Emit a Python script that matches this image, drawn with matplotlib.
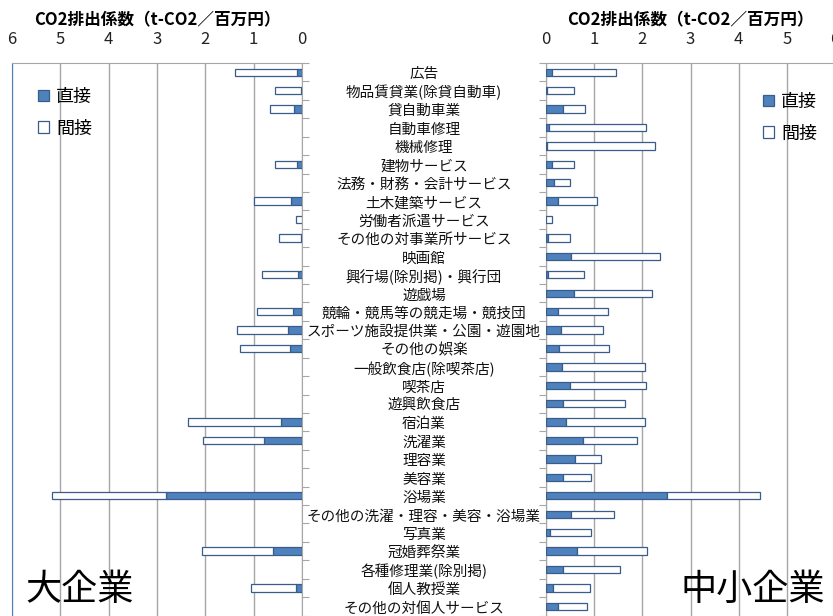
import numpy as np
import matplotlib
matplotlib.use("Agg")
import matplotlib.pyplot as plt
from matplotlib.transforms import blended_transform_factory
from matplotlib.patches import Patch

plt.rcParams['font.family'] = ['Noto Sans CJK JP', 'DejaVu Sans']

categories = [
    "広告", "物品賃貸業(除貸自動車)", "貸自動車業", "自動車修理", "機械修理",
    "建物サービス", "法務・財務・会計サービス", "土木建築サービス", "労働者派遣サービス",
    "その他の対事業所サービス", "映画館", "興行場(除別掲)・興行団", "遊戯場",
    "競輪・競馬等の競走場・競技団", "スポーツ施設提供業・公園・遊園地", "その他の娯楽",
    "一般飲食店(除喫茶店)", "喫茶店", "遊興飲食店", "宿泊業", "洗濯業", "理容業", "美容業",
    "浴場業", "その他の洗濯・理容・美容・浴場業", "写真業", "冠婚葬祭業", "各種修理業(除別掲)",
    "個人教授業", "その他の対個人サービス",
]

large_direct = [0.10, 0.02, 0.17, 0, 0, 0.10, 0, 0.23, 0.01, 0.02, 0, 0.08, 0, 0.18, 0.30,
                0.25, 0, 0, 0, 0.43, 0.79, 0, 0, 2.82, 0, 0, 0.61, 0, 0.12, 0]
large_indirect = [1.29, 0.54, 0.49, 0, 0, 0.46, 0, 0.76, 0.11, 0.45, 0, 0.75, 0, 0.76, 1.05,
                  1.03, 0, 0, 0, 1.92, 1.25, 0, 0, 2.36, 0, 0, 1.45, 0, 0.94, 0]

small_direct = [0.12, 0.03, 0.35, 0.06, 0.03, 0.12, 0.16, 0.24, 0.01, 0.04, 0.51, 0.05, 0.58,
                0.24, 0.31, 0.26, 0.33, 0.49, 0.35, 0.41, 0.76, 0.60, 0.35, 2.52, 0.51, 0.09,
                0.64, 0.35, 0.14, 0.24]
small_indirect = [1.33, 0.56, 0.47, 2.01, 2.23, 0.47, 0.33, 0.81, 0.12, 0.45, 1.86, 0.73, 1.63,
                  1.04, 0.88, 1.04, 1.73, 1.59, 1.28, 1.65, 1.12, 0.54, 0.59, 1.92, 0.91, 0.85,
                  1.46, 1.19, 0.77, 0.62]

xticks = [0, 1, 2, 3, 4, 5, 6]
title = "CO2排出係数（t-CO2／百万円）"
legend_labels = ["直接", "間接"]

W, H = 833, 616
fig = plt.figure(figsize=(W / 100, H / 100), dpi=100)

def fx(px):
    return px / W

def fy(py):
    return 1 - py / H

top_px, bot_px = 63, 615.5
axL = fig.add_axes([fx(12), fy(bot_px), fx(302 - 12), (bot_px - top_px) / H])
axR = fig.add_axes([fx(546), fy(bot_px), fx(835 - 546), (bot_px - top_px) / H])

blue = "#4F81BD"
dark = "#385D8A"
grid = "#A6A6A6"
n = len(categories)
y = np.arange(n)
bh = 0.40

def draw(ax, direct, indirect):
    d = np.array(direct, dtype=float)
    ind = np.array(indirect, dtype=float)
    m1 = d > 0
    ax.barh(y[m1], d[m1], height=bh, color=blue, edgecolor=dark, linewidth=0.9, zorder=3)
    m2 = ind > 0
    ax.barh(y[m2], ind[m2], left=d[m2], height=bh, color="white", edgecolor=dark,
            linewidth=0.9, zorder=3)
    ax.set_ylim(n - 0.5, -0.5)
    ax.set_xticks(xticks)
    ax.xaxis.tick_top()
    ax.tick_params(axis='x', length=0, pad=11, labelsize=12, colors="#222222")
    ax.grid(axis='x', color=grid, linewidth=1.0, zorder=0)
    ax.set_yticks(np.arange(n + 1) - 0.5)
    ax.set_yticklabels([])
    for s in ax.spines.values():
        s.set_color(grid)
    ax.spines['bottom'].set_visible(False)

draw(axL, large_direct, large_indirect)
axL.set_xlim(6, 0)
axL.spines['left'].set_color(blue)
axL.yaxis.tick_right()
axL.tick_params(axis='y', length=5, color=grid, direction='out')

draw(axR, small_direct, small_indirect)
axR.set_xlim(0, 6)
axR.spines['right'].set_visible(False)
axR.yaxis.tick_left()
axR.tick_params(axis='y', length=5, color=grid, direction='out')

# category labels in the middle
tr = blended_transform_factory(fig.transFigure, axL.transData)
for i, c in enumerate(categories):
    axL.text(fx(424), i + 0.12, c, transform=tr, ha='center', va='center', fontsize=10.5,
             color="#111111", clip_on=False)

fig.text(fx(157), fy(20), title, ha='center', va='center', fontsize=12, fontweight='bold')
fig.text(fx(690), fy(20), title, ha='center', va='center', fontsize=12, fontweight='bold')

handles = [Patch(facecolor=blue, edgecolor=dark, linewidth=0.9),
           Patch(facecolor="white", edgecolor=dark, linewidth=0.9)]
for (bx, by) in [(38, 88), (763, 93)]:
    fig.legend(handles, legend_labels, loc='upper left', bbox_to_anchor=(fx(bx), fy(by)),
               frameon=False, fontsize=13, handlelength=0.6, handleheight=0.6,
               handletextpad=0.4, labelspacing=0.75, borderpad=0, borderaxespad=0)

fig.text(fx(25), fy(590), "大企業", ha='left', va='center', fontsize=26)
fig.text(fx(680), fy(590), "中小企業", ha='left', va='center', fontsize=26)

fig.savefig("out.png", dpi=100)
